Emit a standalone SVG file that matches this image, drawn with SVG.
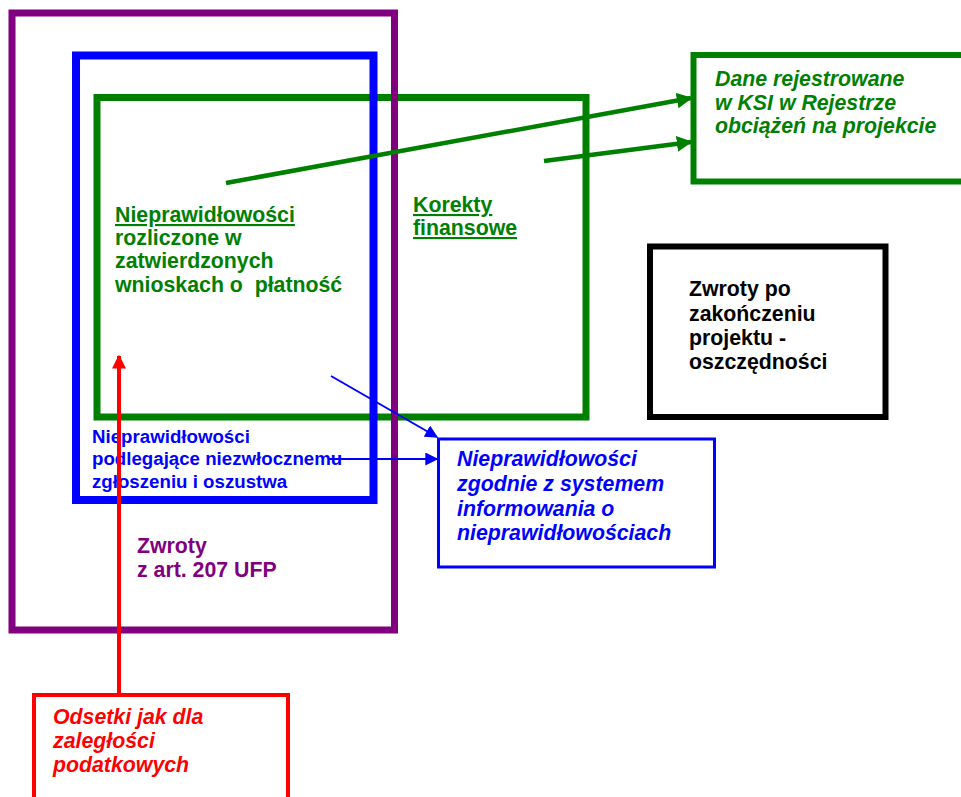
<svg xmlns="http://www.w3.org/2000/svg" width="961" height="797" viewBox="0 0 961 797">
<defs>
<style>
text{font-family:"Liberation Sans",Arial,sans-serif;font-weight:bold;font-size:21.3px;}
.it{font-style:italic;}
.sm{font-size:18.7px;}
.box{fill:none;}
.u{text-decoration:underline;}
</style>
<marker id="ag" viewBox="0 0 10 10" refX="9" refY="5" markerWidth="3.5" markerHeight="3.5" orient="auto" markerUnits="strokeWidth"><path d="M0,0 L10,5 L0,10 z" fill="#008000"/></marker>
<marker id="ab" viewBox="0 0 10 10" refX="9" refY="5" markerWidth="6.5" markerHeight="6.5" orient="auto" markerUnits="strokeWidth"><path d="M0,0 L10,5 L0,10 z" fill="#0000ff"/></marker>
<marker id="ar" viewBox="0 0 10 10" refX="9" refY="5" markerWidth="3.5" markerHeight="3.5" orient="auto" markerUnits="strokeWidth"><path d="M0,0 L10,5 L0,10 z" fill="#ff0000"/></marker>
</defs>
<rect width="961" height="797" fill="#fff"/>
<g id="green-inner">
<rect class="box" x="97" y="97.5" width="489" height="319.5" stroke="#008000" stroke-width="7"/>
<text x="115" y="222" fill="#008000" class="u">Nieprawidłowości</text>
<text x="115" y="245" fill="#008000">rozliczone w</text>
<text x="115" y="268" fill="#008000">zatwierdzonych</text>
<text x="115" y="292" fill="#008000" xml:space="preserve">wnioskach o  płatność</text>
<text x="413" y="212" fill="#008000" class="u">Korekty</text>
<text x="413" y="235" fill="#008000" class="u">finansowe</text>
</g>
<g id="blue-outer">
<rect class="box" x="76" y="55.5" width="297.5" height="444.5" stroke="#0000ff" stroke-width="8"/>
<text class="sm" x="92" y="443" fill="#0000ff">Nieprawidłowości</text>
<text class="sm" x="92" y="465" fill="#0000ff">podlegające niezwłocznemu</text>
<text class="sm" x="92" y="488" fill="#0000ff">zgłoszeniu i oszustwa</text>
</g>
<g id="purple">
<rect class="box" x="12" y="13" width="382.5" height="617" stroke="#800080" stroke-width="7"/>
<text x="137" y="553" fill="#800080">Zwroty</text>
<text x="137" y="577" fill="#800080">z art. 207 UFP</text>
</g>
<g id="ksi">
<rect class="box" x="693.5" y="55" width="290" height="126.5" stroke="#008000" stroke-width="6"/>
<text class="it" x="715" y="86" fill="#008000">Dane rejestrowane</text>
<text class="it" x="715" y="110" fill="#008000">w KSI w Rejestrze</text>
<text class="it" x="715" y="133" fill="#008000">obciążeń na projekcie</text>
</g>
<g id="zwroty-po">
<rect class="box" x="650" y="246.5" width="235.5" height="170.5" stroke="#000" stroke-width="6"/>
<text x="689" y="296" fill="#000">Zwroty po</text>
<text x="689" y="321" fill="#000">zakończeniu</text>
<text x="689" y="345" fill="#000">projektu -</text>
<text x="689" y="369" fill="#000">oszczędności</text>
</g>
<g id="system">
<rect class="box" x="438.5" y="439" width="276" height="128" stroke="#0000ff" stroke-width="3"/>
<text class="it" x="457" y="466" fill="#0000ff">Nieprawidłowości</text>
<text class="it" x="457" y="491" fill="#0000ff">zgodnie z systemem</text>
<text class="it" x="457" y="516" fill="#0000ff">informowania o</text>
<text class="it" x="457" y="540" fill="#0000ff">nieprawidłowościach</text>
</g>
<g id="odsetki">
<rect class="box" x="34" y="695" width="254" height="130" stroke="#ff0000" stroke-width="4"/>
<text class="it" x="53" y="724" fill="#ff0000">Odsetki jak dla</text>
<text class="it" x="53" y="748" fill="#ff0000">zaległości</text>
<text class="it" x="53" y="772" fill="#ff0000">podatkowych</text>
</g>
<g id="connectors">
<line x1="226" y1="183" x2="691" y2="98" stroke="#008000" stroke-width="4.5" marker-end="url(#ag)"/>
<line x1="544" y1="161" x2="691" y2="142" stroke="#008000" stroke-width="4.5" marker-end="url(#ag)"/>
<line x1="331" y1="376" x2="437" y2="437" stroke="#0000ff" stroke-width="2" marker-end="url(#ab)"/>
<line x1="328" y1="459" x2="437" y2="459" stroke="#0000ff" stroke-width="2" marker-end="url(#ab)"/>
<line x1="119" y1="693" x2="119" y2="356" stroke="#ff0000" stroke-width="4" marker-end="url(#ar)"/>
</g>
</svg>
